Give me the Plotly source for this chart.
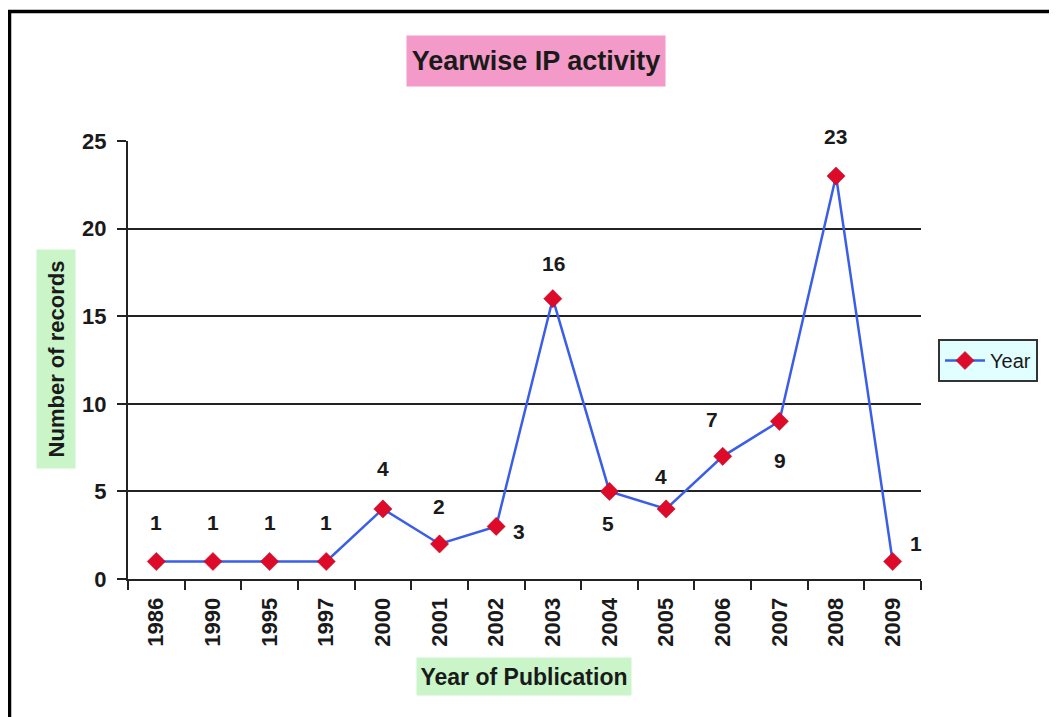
import plotly.graph_objects as go

years = ["1986", "1990", "1995", "1997", "2000", "2001", "2002", "2003",
         "2004", "2005", "2006", "2007", "2008", "2009"]
records = [1, 1, 1, 1, 4, 2, 3, 16, 5, 4, 7, 9, 23, 1]

# label offsets (pixels, styling only): (xshift, yshift)
label_offsets = [(0, 39), (0, 39), (0, 39), (0, 39), (0, 40), (-1, 37), (23, -5),
                 (1, 35), (-1, -32), (-5, 32), (-11, 37), (1, -39), (-1, 40), (23, 18)]

# page is offset 8px by body margin
W, H = 1049, 709
L, R, T, B = 120, 136, 133, 138
pw, ph = W - L - R, H - T - B

def px(x):
    return (x - 8 - L) / pw

def py(y):
    return (H - B - (y - 8)) / ph

FONT = "Liberation Sans, Arial, sans-serif"
NARROW = "Liberation Sans Narrow, Liberation Sans, Arial, sans-serif"
INK = "#1a1a1a"

fig = go.Figure()
fig.add_trace(go.Scatter(
    x=years, y=records, mode="lines+markers", name="Year",
    line=dict(color="#3a5ee8", width=2.5),
    marker=dict(symbol="diamond", size=14, color="#dd0a2a",
                line=dict(color="#c00020", width=0.5)),
    cliponaxis=False,
))

label_annotations = [
    dict(x=i, y=v, xref="x", yref="y", text=str(v), showarrow=False,
         xshift=dx, yshift=dy, xanchor="center", yanchor="middle",
         font=dict(family=FONT, size=21, color=INK, weight="bold"))
    for i, (v, (dx, dy)) in enumerate(zip(records, label_offsets))
]

fig.update_layout(
    width=W, height=H,
    margin=dict(l=L, r=R, t=T, b=B),
    paper_bgcolor="white", plot_bgcolor="white",
    font=dict(family=FONT, color=INK),
    showlegend=True,
    legend=dict(x=px(938), y=py(339), xanchor="left", yanchor="top",
                bgcolor="#e2ffff", bordercolor="#333333", borderwidth=2,
                font=dict(size=20, family=FONT, color=INK),
                itemwidth=40, tracegroupgap=0, entrywidth=106, entrywidthmode="pixels"),
    xaxis=dict(type="category", range=[-0.5, 13.5], showgrid=False,
               showline=True, linecolor="#222", linewidth=2,
               ticks="outside", tickson="boundaries", ticklen=9, tickcolor="#222",
               tickwidth=1.5, tickangle=-90, zeroline=False, ticklabelstandoff=8,
               tickfont=dict(size=22, family=FONT, color=INK, weight="bold"),
               fixedrange=True),
    yaxis=dict(range=[0, 25], tickvals=[0, 5, 10, 15, 20, 25], showgrid=True,
               gridcolor="#222", gridwidth=1.5, zeroline=False,
               showline=True, linecolor="#222", linewidth=2,
               ticks="outside", ticklen=9, tickcolor="#222", tickwidth=1.5,
               ticklabelstandoff=6,
               tickfont=dict(size=22, family=FONT, color=INK, weight="bold"),
               fixedrange=True),
    annotations=[
        dict(text="Yearwise IP activity", xref="paper", yref="paper",
             x=px(536), y=py(61), xanchor="center", yanchor="middle", showarrow=False,
             bgcolor="#f49ac8", width=258, height=50, borderpad=0,
             font=dict(size=27, family=NARROW, color=INK, weight="bold")),
        dict(text="Number of records", xref="paper", yref="paper",
             x=px(56), y=py(359), xanchor="center", yanchor="middle", showarrow=False,
             textangle=-90, bgcolor="#c9f5c9", width=218, height=38, borderpad=0,
             font=dict(size=22, family=NARROW, color=INK, weight="bold")),
        dict(text="Year of Publication", xref="paper", yref="paper",
             x=px(524), y=py(676), xanchor="center", yanchor="middle", showarrow=False,
             bgcolor="#c9f5c9", width=214, height=37, borderpad=0,
             font=dict(size=23, family=NARROW, color=INK, weight="bold")),
    ] + label_annotations,
    shapes=[
        dict(type="rect", xref="paper", yref="paper",
             x0=px(9.5), x1=px(1100), y0=py(800), y1=py(11.5),
             line=dict(color="black", width=3.5), fillcolor="rgba(0,0,0,0)", layer="below"),
    ],
)

fig.write_html("out.html")
